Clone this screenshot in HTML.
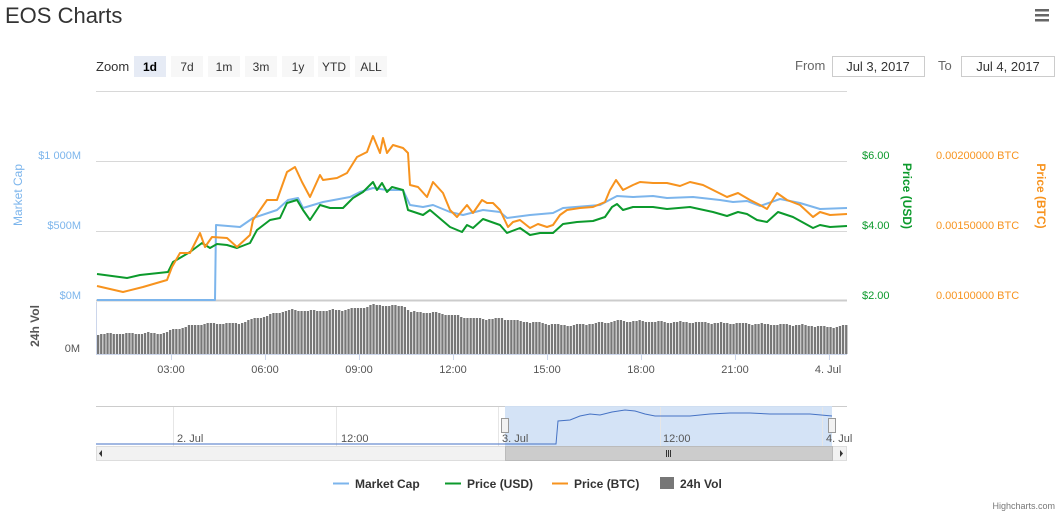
<!DOCTYPE html>
<html><head><meta charset="utf-8"><style>
body{margin:0;background:#fff;width:1063px;height:516px;overflow:hidden;font-family:"Liberation Sans",sans-serif}
svg{position:absolute;left:0;top:0}
</style></head><body>
<svg width="1063" height="516" viewBox="0 0 1063 516" font-family="Liberation Sans, sans-serif">
<text x="5" y="23" font-size="22" fill="#333">EOS Charts</text>
<g fill="#666"><rect x="1035" y="9" width="14" height="2.5"/><rect x="1035" y="14" width="14" height="2.5"/><rect x="1035" y="19" width="14" height="2.5"/></g>
<!-- zoom buttons -->
<text x="96" y="71" font-size="13" fill="#333">Zoom</text>
<g font-size="12" fill="#333" text-anchor="middle">
<rect x="134" y="56" width="32" height="21" fill="#e6ebf5"/><text x="150" y="71" font-weight="bold" fill="#000">1d</text>
<rect x="171" y="56" width="32" height="21" fill="#f7f7f7"/><text x="187" y="71">7d</text>
<rect x="208" y="56" width="32" height="21" fill="#f7f7f7"/><text x="224" y="71">1m</text>
<rect x="245" y="56" width="32" height="21" fill="#f7f7f7"/><text x="261" y="71">3m</text>
<rect x="282" y="56" width="32" height="21" fill="#f7f7f7"/><text x="298" y="71">1y</text>
<rect x="318" y="56" width="32" height="21" fill="#f7f7f7"/><text x="334" y="71">YTD</text>
<rect x="355" y="56" width="32" height="21" fill="#f7f7f7"/><text x="371" y="71">ALL</text>
</g>
<text x="795" y="70" font-size="13" fill="#666">From</text>
<rect x="832.5" y="56.5" width="92" height="20" fill="#fff" stroke="#ccc"/>
<text x="878" y="71" font-size="13" fill="#333" text-anchor="middle">Jul 3, 2017</text>
<text x="938" y="70" font-size="13" fill="#666">To</text>
<rect x="961.5" y="56.5" width="93" height="20" fill="#fff" stroke="#ccc"/>
<text x="1008" y="71" font-size="13" fill="#333" text-anchor="middle">Jul 4, 2017</text>
<!-- grid -->
<g stroke="#d8d8d8" stroke-width="1">
<line x1="96" y1="91.5" x2="847" y2="91.5"/>
<line x1="96" y1="161.5" x2="847" y2="161.5"/>
<line x1="96" y1="231.5" x2="847" y2="231.5"/>
<line x1="96" y1="300.5" x2="847" y2="300.5" stroke="#ccc" stroke-width="2"/>
</g>
<line x1="96.5" y1="302" x2="96.5" y2="354" stroke="#ccd6eb"/>
<!-- axis labels -->
<g font-size="11" fill="#7cb5ec" text-anchor="end">
<text x="81" y="159">$1 000M</text><text x="81" y="229">$500M</text><text x="81" y="299">$0M</text></g>
<text transform="translate(22,195) rotate(-90)" font-size="12" fill="#7cb5ec" text-anchor="middle">Market Cap</text>
<g font-size="11" fill="#0c9a2c"><text x="862" y="159">$6.00</text><text x="862" y="229">$4.00</text><text x="862" y="299">$2.00</text></g>
<text transform="translate(903,196) rotate(90)" font-size="12" font-weight="bold" fill="#0c9a2c" text-anchor="middle">Price (USD)</text>
<g font-size="11" fill="#f7931e"><text x="936" y="159">0.00200000 BTC</text><text x="936" y="229">0.00150000 BTC</text><text x="936" y="299">0.00100000 BTC</text></g>
<text transform="translate(1037,196) rotate(90)" font-size="12" font-weight="bold" fill="#f7931e" text-anchor="middle">Price (BTC)</text>
<text transform="translate(39,326) rotate(-90)" font-size="12" font-weight="bold" fill="#555" text-anchor="middle">24h Vol</text>
<text x="80" y="352" font-size="11" fill="#555" text-anchor="end">0M</text>
<g id="vol" fill="#777"></g>
<line x1="96" y1="354.5" x2="847" y2="354.5" stroke="#ccd6eb"/>
<g stroke="#ccd6eb"><line x1="171.5" y1="354" x2="171.5" y2="360"/><line x1="265.5" y1="354" x2="265.5" y2="360"/><line x1="359.5" y1="354" x2="359.5" y2="360"/><line x1="453.5" y1="354" x2="453.5" y2="360"/><line x1="547.5" y1="354" x2="547.5" y2="360"/><line x1="641.5" y1="354" x2="641.5" y2="360"/><line x1="735.5" y1="354" x2="735.5" y2="360"/><line x1="829.5" y1="354" x2="829.5" y2="360"/></g>
<g font-size="11" fill="#555" text-anchor="middle">
<text x="171" y="373">03:00</text><text x="265" y="373">06:00</text><text x="359" y="373">09:00</text><text x="453" y="373">12:00</text><text x="547" y="373">15:00</text><text x="641" y="373">18:00</text><text x="735" y="373">21:00</text><text x="828" y="373">4. Jul</text></g>
<!-- series -->
<g fill="none" stroke-width="2" stroke-linejoin="round">
<polyline stroke="#7cb5ec" points="97,300 215,300 216,225 240,227 253,218 277,210 288,200 298,198 303,208 323,202 350,197 360,192 373,188 387,190 403,190 410,205 423,207 433,205 450,212 463,215 483,210 500,212 507,218 530,215 553,213 563,208 600,205 617,196 633,197 653,196 667,198 693,197 720,200 733,202 747,201 760,206 780,199 800,203 820,209 847,208"/>
<polyline stroke="#0c9a2c" points="97,274 127,278 140,275 168,272 173,262 190,252 202,243 210,248 217,244 227,245 237,248 250,243 257,230 270,220 280,218 287,203 297,200 303,210 310,220 320,205 330,208 343,208 353,198 363,192 373,182 377,190 382,183 387,192 392,187 403,190 408,210 423,215 430,210 450,227 462,232 467,225 473,228 483,219 500,225 507,233 520,228 530,235 540,233 553,233 563,224 577,222 593,221 605,217 612,207 617,204 623,210 633,207 653,207 667,209 690,207 713,212 727,216 738,212 747,214 757,220 767,222 778,212 793,217 813,228 820,225 830,227 847,226"/>
<polyline stroke="#f7931e" points="97,286 123,292 143,287 167,280 172,267 180,253 190,253 200,233 205,247 212,237 227,238 237,247 250,235 253,220 267,200 277,200 287,172 295,167 302,182 310,197 320,175 323,180 337,178 347,173 357,157 367,152 373,136 380,153 383,138 387,153 393,145 403,148 408,153 410,185 418,187 427,197 433,182 443,193 450,210 457,217 467,205 473,213 482,200 487,203 493,203 500,210 508,227 513,222 520,220 530,228 538,224 547,227 553,225 560,215 567,210 580,208 593,207 605,202 610,190 616,180 623,190 633,185 640,182 653,183 667,183 680,186 690,182 703,185 713,190 727,197 738,193 750,200 760,205 767,209 777,193 787,200 800,205 813,217 820,212 830,215 847,214"/>
</g>
<!-- navigator -->
<line x1="96" y1="406.5" x2="847" y2="406.5" stroke="#ccc"/>
<rect x="505" y="406" width="327" height="40" fill="#cfe0f5" opacity="0.9"/>
<g stroke="#e6e6e6"><line x1="173.5" y1="407" x2="173.5" y2="446"/><line x1="336.5" y1="407" x2="336.5" y2="446"/><line x1="498.5" y1="407" x2="498.5" y2="446"/><line x1="660.5" y1="407" x2="660.5" y2="446"/><line x1="822.5" y1="407" x2="822.5" y2="446"/></g>
<polyline fill="none" stroke="#4572c4" stroke-width="1" points="96,444 556,444 558,421 570,420 580,416 590,414 600,415 612,412 625,410 635,411 645,414 655,416 670,416 690,416 710,414 730,413 750,413 770,414 790,414 810,414 832,416"/>
<g font-size="11" fill="#555"><text x="177" y="442">2. Jul</text><text x="341" y="442">12:00</text><text x="502" y="442">3. Jul</text><text x="663" y="442">12:00</text><text x="826" y="442">4. Jul</text></g>
<g fill="#f2f2f2" stroke="#999"><rect x="501.5" y="418.5" width="7" height="14"/><rect x="828.5" y="418.5" width="7" height="14"/></g>
<rect x="96.5" y="446.5" width="750" height="14" fill="#f2f2f2" stroke="#ddd"/>
<rect x="505.5" y="446.5" width="327" height="14" fill="#ccc" stroke="#bbb"/>
<g stroke="#333"><line x1="666.5" y1="450" x2="666.5" y2="457"/><line x1="668.5" y1="450" x2="668.5" y2="457"/><line x1="670.5" y1="450" x2="670.5" y2="457"/></g>
<path d="M102 450 L99 453.5 L102 457Z" fill="#333"/><path d="M840 450 L843 453.5 L840 457Z" fill="#333"/>
<!-- legend -->
<g font-size="12" font-weight="bold" fill="#333">
<line x1="333" y1="483.5" x2="349" y2="483.5" stroke="#7cb5ec" stroke-width="2"/><text x="355" y="488">Market Cap</text>
<line x1="445" y1="483.5" x2="461" y2="483.5" stroke="#0c9a2c" stroke-width="2"/><text x="467" y="488">Price (USD)</text>
<line x1="552" y1="483.5" x2="568" y2="483.5" stroke="#f7931e" stroke-width="2"/><text x="574" y="488">Price (BTC)</text>
<rect x="660" y="477" width="14" height="12" fill="#777"/><text x="680" y="488">24h Vol</text></g>
<text x="1055" y="509" font-size="9" fill="#777" text-anchor="end">Highcharts.com</text>
</svg>
<script>
var p=[[97,334],[165,333],[172,330],[185,327],[200,324],[240,323],[250,320],[270,315],[287,310],[310,311],[340,310],[365,307],[373,305],[405,306],[410,312],[440,313],[470,318],[490,319],[500,318],[510,320],[540,323],[560,325],[570,325],[600,323],[615,321],[640,321],[660,322],[680,322],[720,323],[760,324],[800,325],[830,327],[847,326]];
function f(x){for(var i=0;i<p.length-1;i++){if(x<=p[i+1][0]){var t=(x-p[i][0])/(p[i+1][0]-p[i][0]);return p[i][1]+t*(p[i+1][1]-p[i][1]);}}return p[p.length-1][1];}
var g=document.getElementById('vol'),s='';
for(var x=97;x<846;x+=3.13){var y=Math.round(f(x+1)+Math.sin(x*1.7)*0.8);s+='<rect x="'+x.toFixed(1)+'" y="'+y+'" width="2.3" height="'+(354-y)+'"/>';}
g.innerHTML=s;
</script>
</body></html>
